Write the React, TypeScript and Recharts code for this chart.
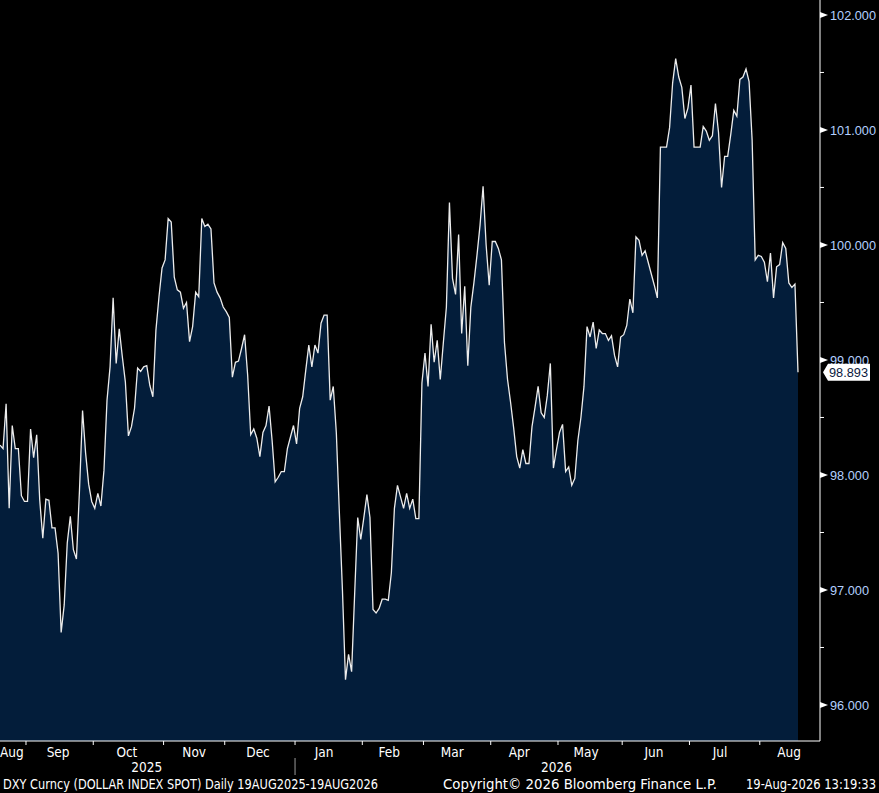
import React from 'react';
import { AreaChart, Area, XAxis, YAxis } from 'recharts';

// DXY daily closes, 19 Aug 2025 .. 19 Aug 2026 (business days)
const dxyValues: number[] = [
  98.26, 98.23, 98.62, 97.71, 98.43, 98.23, 98.23, 97.82, 97.77, 97.77,
  98.40, 98.15, 98.35, 97.78, 97.45, 97.79, 97.78, 97.54, 97.54, 97.32,
  96.63, 96.87, 97.41, 97.64, 97.35, 97.27, 97.87, 98.56, 98.19, 97.92,
  97.77, 97.71, 97.84, 97.73, 98.04, 98.65, 98.94, 99.54, 98.97, 99.27,
  99.03, 98.81, 98.34, 98.42, 98.58, 98.93, 98.90, 98.94, 98.95, 98.78,
  98.68, 99.26, 99.55, 99.80, 99.87, 100.23, 100.20, 99.72, 99.61, 99.59,
  99.45, 99.50, 99.16, 99.29, 99.59, 99.55, 100.23, 100.16, 100.18, 100.14,
  99.67, 99.59, 99.54, 99.46, 99.42, 99.37, 98.85, 98.98, 98.99, 99.10,
  99.22, 98.87, 98.35, 98.40, 98.32, 98.16, 98.37, 98.43, 98.60, 98.30,
  97.94, 97.98, 98.03, 98.03, 98.23, 98.33, 98.43, 98.27, 98.58, 98.68,
  98.91, 99.13, 98.94, 99.13, 99.06, 99.32, 99.39, 99.39, 98.65, 98.77,
  98.37, 97.67, 97.00, 96.22, 96.44, 96.29, 96.97, 97.63, 97.44, 97.63,
  97.83, 97.63, 96.83, 96.80, 96.84, 96.92, 96.92, 96.91, 97.15, 97.71,
  97.91, 97.81, 97.71, 97.84, 97.71, 97.79, 97.62, 97.62, 98.80, 99.06,
  98.77, 99.31, 98.98, 99.17, 98.83, 99.15, 99.46, 100.37, 99.71, 99.57,
  100.09, 99.23, 99.64, 98.95, 99.46, 99.67, 99.91, 100.17, 100.51, 100.00,
  99.65, 100.03, 100.03, 99.97, 99.87, 99.15, 98.83, 98.63, 98.41, 98.16,
  98.06, 98.22, 98.10, 98.10, 98.42, 98.59, 98.77, 98.54, 98.50, 98.69,
  98.97, 98.06, 98.22, 98.37, 98.44, 98.03, 98.07, 97.91, 97.97, 98.30,
  98.50, 98.77, 99.29, 99.20, 99.33, 99.10, 99.26, 99.23, 99.23, 99.17,
  99.21, 99.04, 98.94, 99.20, 99.22, 99.30, 99.53, 99.41, 100.07, 100.04,
  99.91, 99.95, 99.85, 99.75, 99.65, 99.54, 100.85, 100.85, 100.85, 101.02,
  101.41, 101.62, 101.46, 101.37, 101.10, 101.19, 101.39, 100.85, 100.85, 100.85,
  101.03, 100.99, 100.91, 100.95, 101.23, 100.98, 100.50, 100.77, 100.77, 100.96,
  101.17, 101.12, 101.44, 101.46, 101.53, 101.42, 100.91, 99.87, 99.91, 99.90,
  99.85, 99.68, 99.93, 99.54, 99.81, 99.83, 100.02, 99.97, 99.67, 99.63,
  99.66, 98.893,
];

// month boundaries (in business-day index units) and label positions
const monthBoundaries: number[] = [8.5, 30.5, 53.5, 73.5, 96.5, 118.5, 138.5, 160.5, 182.5, 203.5, 225.5, 248.5];
const monthLabels: string[] = ['Aug', 'Sep', 'Oct', 'Nov', 'Dec', 'Jan', 'Feb', 'Mar', 'Apr', 'May', 'Jun', 'Jul', 'Aug'];
const monthLabelPos: number[] = [3.9, 19.0, 41.5, 63.5, 84.4, 106.0, 127.3, 147.9, 169.8, 191.7, 213.9, 235.5, 258.1];
const yearLabels: string[] = ['2025', '2026'];
const yearLabelPos: number[] = [48, 182];
const yearSeparator = 96.5;

const yMajorTicks: number[] = [96, 97, 98, 99, 100, 101, 102];
const yMinorTicks: number[] = [96.5, 97.5, 98.5, 99.5, 100.5, 101.5];
const yDomain: [number, number] = [95.687, 102.13];

const footerLeft = 'DXY Curncy (DOLLAR INDEX SPOT) Daily 19AUG2025-19AUG2026';
const footerMid = 'Copyright\u00A9 2026 Bloomberg Finance L.P.';
const footerRight = '19-Aug-2026 13:19:33';

const data = dxyValues.map((v, i) => ({ i, v }));
const lastValue = dxyValues[dxyValues.length - 1];

const W = 879;
const H = 793;
const FONT = "'Liberation Sans Narrow', 'DejaVu Sans Condensed', 'Liberation Sans', sans-serif";
const NUM_FONT = "'Liberation Sans', 'DejaVu Sans', sans-serif";
const FILL = '#031d3a';
const LABEL_BLUE = '#b3d0ff';

const xTickKinds = new Map<number, { kind: 'b' | 'm' | 'y'; label?: string }>();
monthBoundaries.forEach((b) => xTickKinds.set(b, { kind: 'b' }));
monthLabelPos.forEach((p, k) => xTickKinds.set(p, { kind: 'm', label: monthLabels[k] }));
yearLabelPos.forEach((p, k) => xTickKinds.set(p, { kind: 'y', label: yearLabels[k] }));
const xTicks = Array.from(xTickKinds.keys()).sort((a, b) => a - b);

const XTick = (props: any) => {
  const { x, y, payload } = props;
  const info = xTickKinds.get(payload.value);
  if (!info) return <g />;
  if (info.kind === 'b') {
    return (
      <g>
        <line x1={x} y1={y} x2={x} y2={y + 4} stroke="#ffffff" strokeWidth={1} />
        {payload.value === yearSeparator && (
          <line x1={x} y1={y + 17} x2={x} y2={y + 34} stroke="#9a9a9a" strokeWidth={1} />
        )}
      </g>
    );
  }
  if (info.kind === 'm') {
    return (
      <text x={x} y={y + 16} textAnchor="middle" fill="#ffffff" fontSize={13.5} fontFamily={FONT}>
        {info.label}
      </text>
    );
  }
  return (
    <text x={x} y={y + 31} textAnchor="middle" fill="#ffffff" fontSize={13.5} fontFamily={FONT}>
      {info.label}
    </text>
  );
};

const yTicks = [...yMajorTicks, ...yMinorTicks, lastValue];

const YTick = (props: any) => {
  const { x, y, payload } = props;
  const v: number = payload.value;
  if (v === lastValue) {
    return (
      <g>
        <polygon
          points={`${x + 3},${y} ${x + 8},${y - 8.5} ${x + 50},${y - 8.5} ${x + 50},${y + 8.5} ${x + 8},${y + 8.5}`}
          fill="#ffffff"
        />
        <text x={x + 9} y={y + 5} fill="#0b1a3e" fontSize={13.5} fontFamily={NUM_FONT} textLength={39} lengthAdjust="spacingAndGlyphs">
          {v.toFixed(3)}
        </text>
      </g>
    );
  }
  if (Number.isInteger(v)) {
    return (
      <g>
        <polygon points={`${x},${y - 3} ${x + 8},${y} ${x},${y + 3}`} fill="#ffffff" />
        <text x={x + 10} y={y + 5} fill={LABEL_BLUE} fontSize={13.5} fontFamily={NUM_FONT} textLength={v >= 100 ? 46 : 39} lengthAdjust="spacingAndGlyphs">
          {v.toFixed(3)}
        </text>
      </g>
    );
  }
  return <line x1={x} y1={y} x2={x + 4} y2={y} stroke="#ffffff" strokeWidth={1} />;
};

export default function App() {
  return (
    <div style={{ position: 'fixed', left: 0, top: 0, width: W, height: H, background: '#000000', overflow: 'hidden' }}>
      <AreaChart width={W} height={H} data={data} margin={{ top: 0, right: 0, bottom: 0, left: 0 }}>
        <XAxis
          dataKey="i"
          type="number"
          domain={[0, dxyValues.length - 1]}
          padding={{ left: 0, right: 22 }}
          ticks={xTicks}
          interval={0}
          height={52}
          tickSize={0}
          tickMargin={0}
          tickLine={false}
          axisLine={{ stroke: '#ffffff', strokeWidth: 1 }}
          tick={<XTick />}
        />
        <YAxis
          orientation="right"
          type="number"
          domain={yDomain}
          allowDataOverflow
          ticks={yTicks}
          interval={0}
          width={59}
          tickSize={0}
          tickMargin={0}
          tickLine={false}
          axisLine={{ stroke: '#ffffff', strokeWidth: 1 }}
          tick={<YTick />}
        />
        <Area
          type="linear"
          dataKey="v"
          stroke="#ececec"
          strokeWidth={1.3}
          fill={FILL}
          fillOpacity={1}
          baseValue={yDomain[0]}
          isAnimationActive={false}
          dot={false}
          activeDot={false}
        />
      </AreaChart>
      <svg width={W} height={H} style={{ position: 'absolute', left: 0, top: 0, pointerEvents: 'none' }}>
        <text x={3} y={789} fill="#ffffff" fontSize={13.5} fontFamily={FONT} textLength={375} lengthAdjust="spacingAndGlyphs">
          {footerLeft}
        </text>
        <text x={443} y={789} fill="#ffffff" fontSize={13.5} fontFamily={FONT} textLength={274} lengthAdjust="spacingAndGlyphs">
          {footerMid}
        </text>
        <text x={746} y={789} fill="#ffffff" fontSize={13.5} fontFamily={FONT} textLength={130} lengthAdjust="spacingAndGlyphs">
          {footerRight}
        </text>
      </svg>
    </div>
  );
}
